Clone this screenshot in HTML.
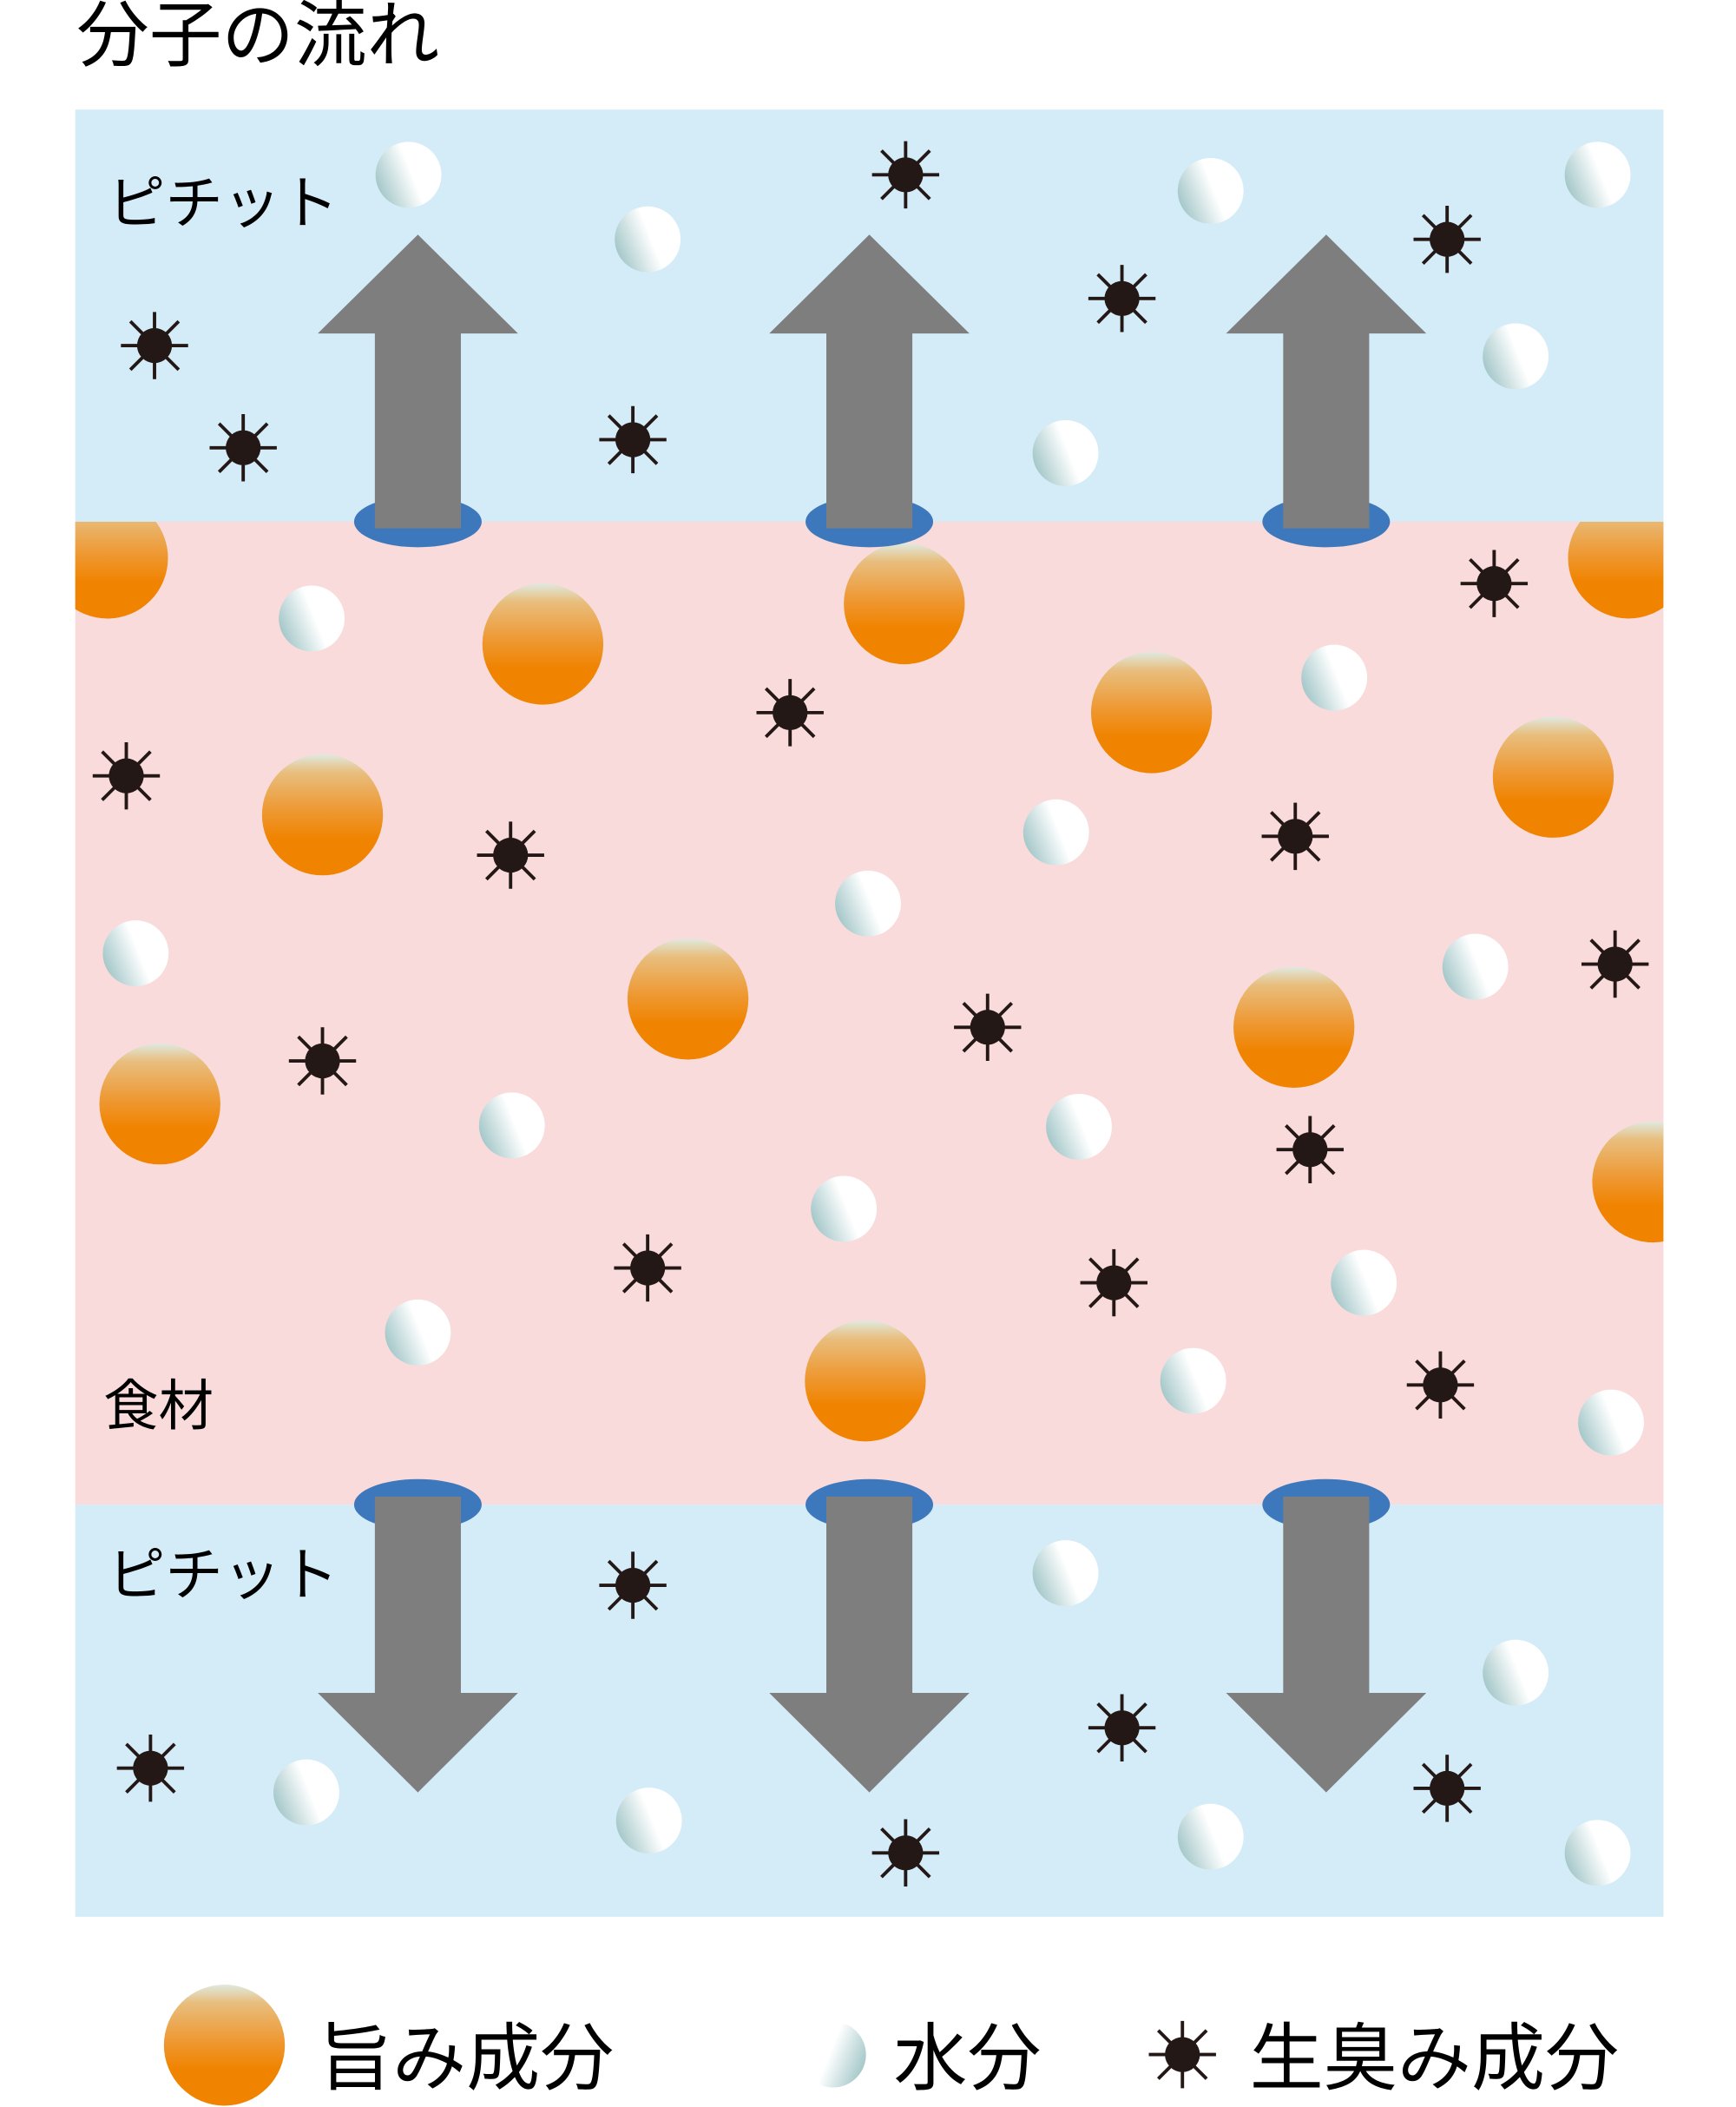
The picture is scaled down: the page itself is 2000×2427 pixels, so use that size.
<!DOCTYPE html>
<html><head><meta charset="utf-8"><style>
html,body{margin:0;padding:0;background:#fff;}
svg{display:block;}
text{font-family:"Liberation Sans","Noto Sans CJK JP",sans-serif;fill:#000;}
</style></head><body>
<svg width="2000" height="2427" viewBox="0 0 1292 1567" preserveAspectRatio="none" xmlns="http://www.w3.org/2000/svg">
<defs>
<linearGradient id="og" x1="0" y1="0" x2="0" y2="1">
<stop offset="0" stop-color="#dfe9e0"/><stop offset="0.15" stop-color="#e8be7e"/><stop offset="0.45" stop-color="#ee9a36"/><stop offset="0.7" stop-color="#f08300"/><stop offset="1" stop-color="#f08300"/>
</linearGradient>
<linearGradient id="wg" x1="0" y1="0.7" x2="1" y2="0.3">
<stop offset="0" stop-color="#9fc4c6"/><stop offset="0.55" stop-color="#ffffff"/><stop offset="1" stop-color="#ffffff"/>
</linearGradient>
<linearGradient id="wg2" x1="1" y1="0.7" x2="0" y2="0.3">
<stop offset="0" stop-color="#9fc4c6"/><stop offset="0.55" stop-color="#ffffff"/><stop offset="1" stop-color="#ffffff"/>
</linearGradient>
<clipPath id="pk"><rect x="56" y="388" width="1182" height="731"/></clipPath>
<g id="st">
<circle r="13" fill="#231815"/>
<g stroke="#231815" stroke-width="2.5">
<line x1="0" y1="-25" x2="0" y2="25"/><line x1="-25" y1="0" x2="25" y2="0"/>
<line x1="-18" y1="-18" x2="18" y2="18"/><line x1="-18" y1="18" x2="18" y2="-18"/>
</g>
</g>
<circle id="w" r="24.5" fill="url(#wg)"/>
<circle id="o" r="45" fill="url(#og)"/>
</defs>

<text x="57" y="45" font-size="54">分子の流れ</text>

<rect x="56" y="81.5" width="1182" height="307" fill="#d4ebf8"/>
<rect x="56" y="388" width="1182" height="731" fill="#f9dbdb"/>
<rect x="56" y="1119" width="1182" height="306.5" fill="#d4ebf8"/>

<text x="80" y="166" font-size="43">ピチット</text>
<text x="80" y="1186" font-size="43">ピチット</text>
<text x="77" y="1060" font-size="41">食材</text>

<g clip-path="url(#pk)">
<use href="#o" x="80" y="415"/><use href="#o" x="1212" y="415"/><use href="#o" x="1230" y="879"/>
</g>
<use href="#o" x="404" y="479"/><use href="#o" x="673" y="449"/><use href="#o" x="240" y="606"/>
<use href="#o" x="857" y="530"/><use href="#o" x="1156" y="578"/><use href="#o" x="512" y="743"/>
<use href="#o" x="963" y="764"/><use href="#o" x="119" y="821"/><use href="#o" x="644" y="1027"/>

<use href="#w" x="304" y="130"/><use href="#w" x="482" y="178"/><use href="#w" x="901" y="142"/>
<use href="#w" x="1189" y="130"/><use href="#w" x="1128" y="265"/><use href="#w" x="793" y="337"/>
<use href="#w" x="232" y="460"/><use href="#w" x="993" y="504"/><use href="#w" x="786" y="619"/>
<use href="#w" x="646" y="672"/><use href="#w" x="101" y="709"/><use href="#w" x="1098" y="719"/>
<use href="#w" x="381" y="837"/><use href="#w" x="803" y="838"/><use href="#w" x="628" y="899"/>
<use href="#w" x="1015" y="954"/><use href="#w" x="311" y="991"/><use href="#w" x="888" y="1027"/>
<use href="#w" x="1199" y="1058"/>
<use href="#w" x="793" y="1170"/><use href="#w" x="1128" y="1244"/><use href="#w" x="228" y="1333"/>
<use href="#w" x="483" y="1354"/><use href="#w" x="901" y="1366"/><use href="#w" x="1189" y="1378"/>

<use href="#st" x="674" y="130"/><use href="#st" x="1077" y="178"/><use href="#st" x="835" y="222"/>
<use href="#st" x="115" y="257"/><use href="#st" x="181" y="333"/><use href="#st" x="471" y="327"/>
<use href="#st" x="1112" y="434"/><use href="#st" x="588" y="530"/><use href="#st" x="94" y="577"/>
<use href="#st" x="380" y="636"/><use href="#st" x="964" y="622"/><use href="#st" x="1202" y="717"/>
<use href="#st" x="735" y="764"/><use href="#st" x="240" y="789"/><use href="#st" x="975" y="855"/>
<use href="#st" x="482" y="943"/><use href="#st" x="829" y="954"/><use href="#st" x="1072" y="1030"/>
<use href="#st" x="471" y="1179"/><use href="#st" x="112" y="1315"/><use href="#st" x="835" y="1285"/>
<use href="#st" x="1077" y="1330"/><use href="#st" x="674" y="1378"/>

<g fill="#3e78bc">
<ellipse cx="311" cy="388" rx="47.5" ry="19"/><ellipse cx="647" cy="388" rx="47.5" ry="19"/><ellipse cx="987" cy="388" rx="47.5" ry="19"/>
<ellipse cx="311" cy="1119" rx="47.5" ry="19"/><ellipse cx="647" cy="1119" rx="47.5" ry="19"/><ellipse cx="987" cy="1119" rx="47.5" ry="19"/>
</g>
<g fill="#7e7e7e">
<path d="M311 174.5 L385.5 248 L343 248 L343 393 L279 393 L279 248 L236.5 248 Z"/>
<path d="M647 174.5 L721.5 248 L679 248 L679 393 L615 393 L615 248 L572.5 248 Z"/>
<path d="M987 174.5 L1061.5 248 L1019 248 L1019 393 L955 393 L955 248 L912.5 248 Z"/>
<path d="M311 1333 L385.5 1259 L343 1259 L343 1113 L279 1113 L279 1259 L236.5 1259 Z"/>
<path d="M647 1333 L721.5 1259 L679 1259 L679 1113 L615 1113 L615 1259 L572.5 1259 Z"/>
<path d="M987 1333 L1061.5 1259 L1019 1259 L1019 1113 L955 1113 L955 1259 L912.5 1259 Z"/>
</g>

<use href="#o" x="167" y="1521"/>
<text x="237" y="1550" font-size="55">旨み成分</text>
<circle cx="620" cy="1528" r="24.5" fill="url(#wg2)"/>
<text x="665" y="1550" font-size="55">水分</text>
<use href="#st" x="880" y="1528"/>
<text x="930" y="1550" font-size="55">生臭み成分</text>
</svg>
</body></html>
